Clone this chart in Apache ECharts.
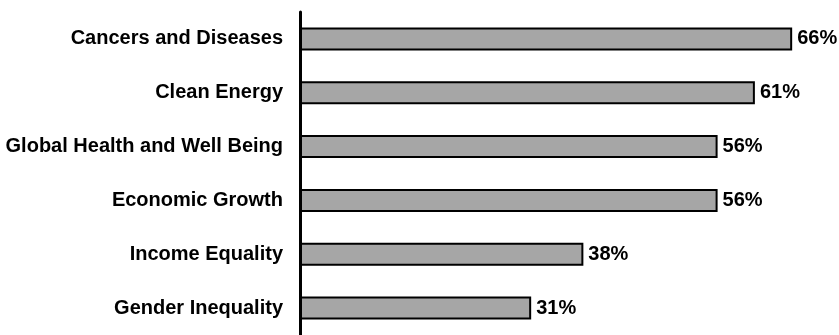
<!DOCTYPE html>
<html>
<head>
<meta charset="utf-8">
<script src="https://cdn.jsdelivr.net/npm/echarts@6/dist/echarts.min.js"></script>
<style>
  html, body { margin: 0; padding: 0; background: #fff; }
</style>
</head>
<body>
<div id="chart" style="width: 839px; height: 335px"></div>
<script>
const categories = [
  'Cancers and Diseases',
  'Clean Energy',
  'Global Health and Well Being',
  'Economic Growth',
  'Income Equality',
  'Gender Inequality'
];
const values = [66, 61, 56, 56, 38, 31];

const chart = echarts.init(document.getElementById('chart'));
const option = {
  animation: false,
  grid: {
    top: 12,
    bottom: -3,
    left: 300,
    right: 17
  },
  xAxis: {
    type: 'value',
    min: 0,
    max: 70,
    show: false
  },
  yAxis: {
    type: 'category',
    inverse: true,
    data: categories,
    axisLine: {
      show: true,
      lineStyle: { color: '#000', width: 3 }
    },
    axisTick: { show: false },
    axisLabel: {
      margin: 17,
      color: '#000',
      fontFamily: 'Liberation Sans',
      fontWeight: 'bold',
      fontSize: 20
    }
  },
  series: [{
    type: 'bar',
    data: values,
    barWidth: 23,
    itemStyle: {
      color: '#a6a6a6',
      borderColor: '#000',
      borderWidth: 2
    },
    label: {
      show: true,
      position: 'right',
      distance: 5,
      formatter: '{c}%',
      color: '#000',
      fontFamily: 'Liberation Sans',
      fontWeight: 'bold',
      fontSize: 20,
      padding: [3, 0, 0, 0]
    }
  }]
};
chart.setOption(option);
</script>
</body>
</html>
